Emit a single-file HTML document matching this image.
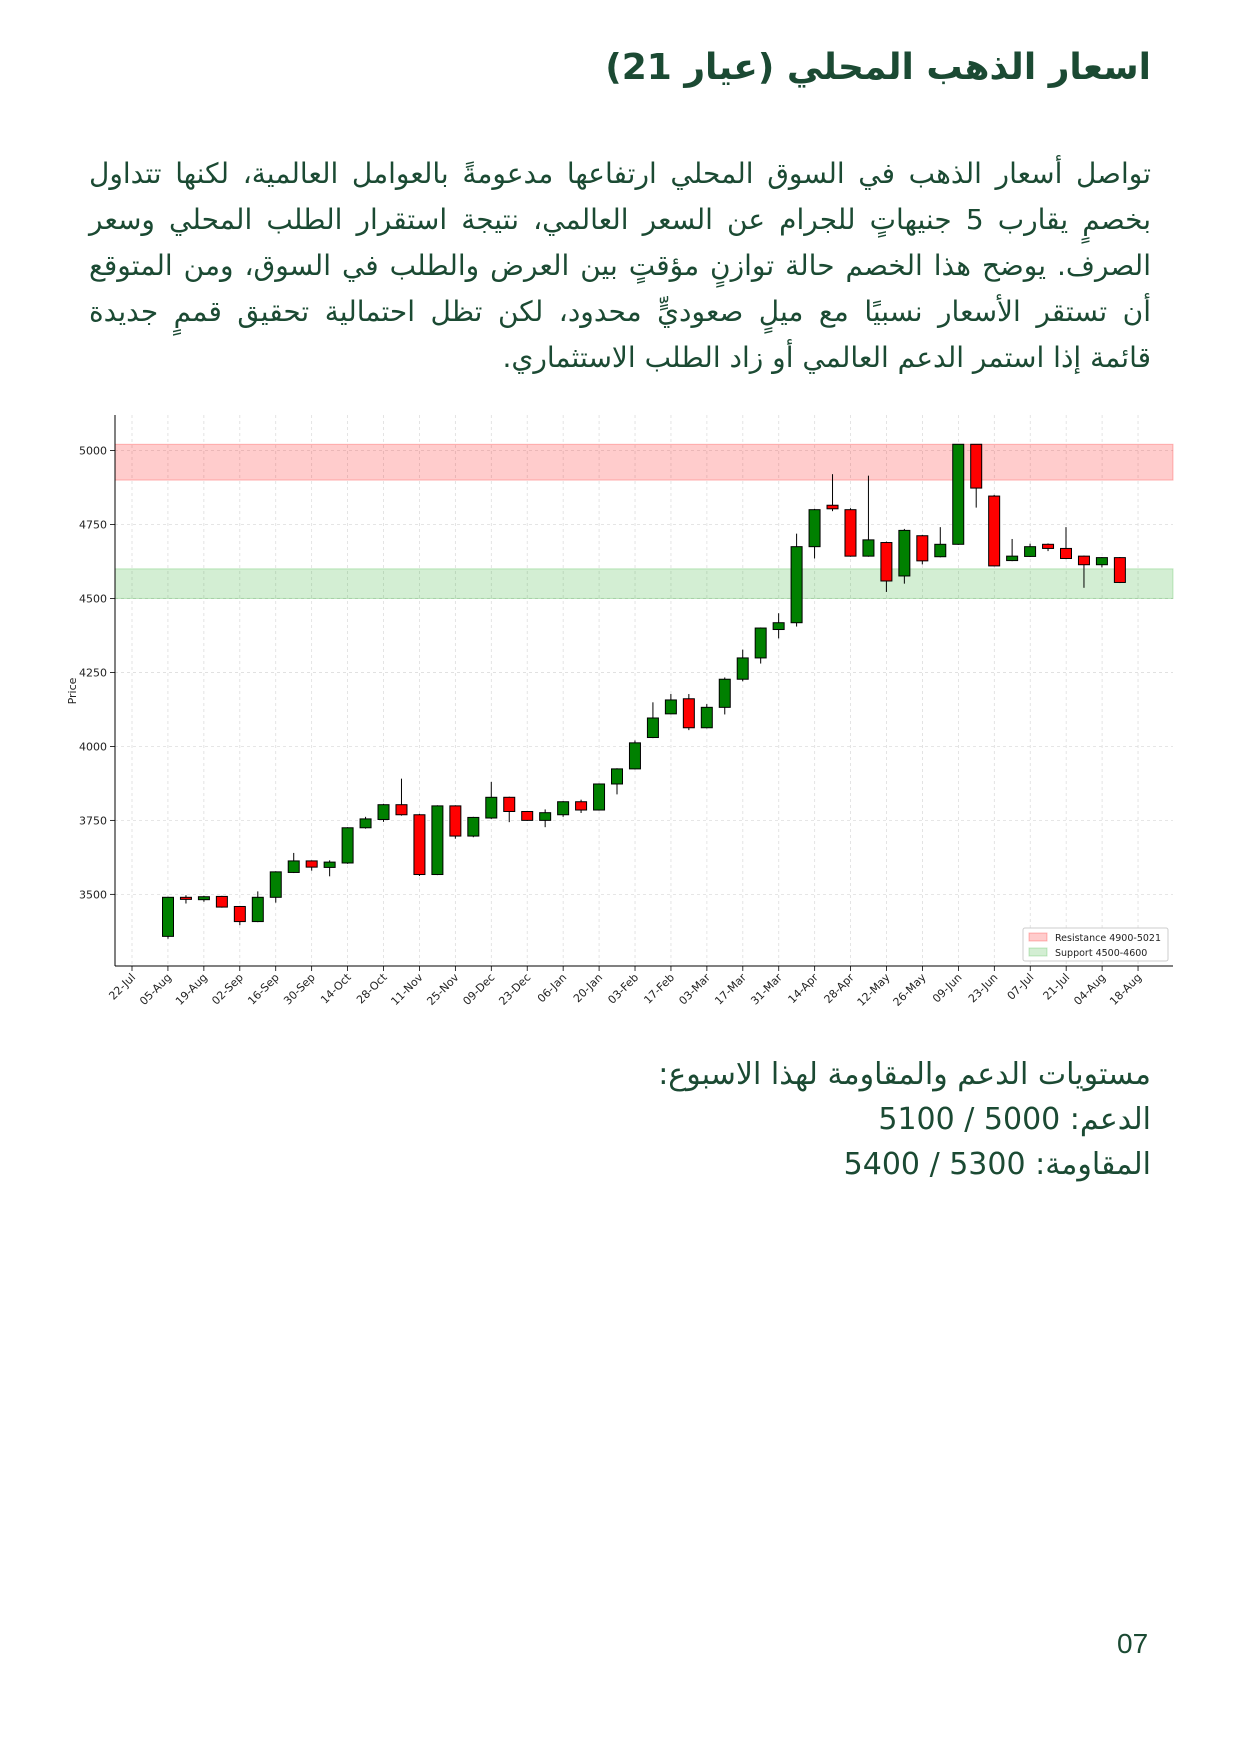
<!DOCTYPE html>
<html lang="ar"><head><meta charset="utf-8">
<style>
html,body{margin:0;padding:0;background:#fff;}
body{width:1241px;height:1755px;position:relative;overflow:hidden;font-family:"DejaVu Sans","Liberation Sans",sans-serif;color:#1b4a33;}
.title{position:absolute;right:90px;top:47px;font-size:36px;font-weight:bold;direction:rtl;white-space:nowrap;}
.para{position:absolute;left:89px;width:1062px;top:151px;font-size:28px;line-height:46px;direction:rtl;}
.para div{white-space:nowrap;text-align:justify;text-align-last:justify;height:46px;}
.para div.last{text-align:right;text-align-last:right;}
.lv{position:absolute;right:90px;direction:rtl;font-size:30px;white-space:nowrap;}
.pg{position:absolute;left:1117px;top:1628px;font-size:28px;font-family:"Liberation Sans",sans-serif;}
svg{position:absolute;left:0;top:0;}
</style></head><body>
<div class="title">اسعار الذهب المحلي (عيار 21)</div>
<div class="para">
<div>تواصل أسعار الذهب في السوق المحلي ارتفاعها مدعومةً بالعوامل العالمية، لكنها تتداول</div>
<div>بخصمٍ يقارب 5 جنيهاتٍ للجرام عن السعر العالمي، نتيجة استقرار الطلب المحلي وسعر</div>
<div>الصرف. يوضح هذا الخصم حالة توازنٍ مؤقتٍ بين العرض والطلب في السوق، ومن المتوقع</div>
<div>أن تستقر الأسعار نسبيًا مع ميلٍ صعوديٍّ محدود، لكن تظل احتمالية تحقيق قممٍ جديدة</div>
<div class="last">قائمة إذا استمر الدعم العالمي أو زاد الطلب الاستثماري.</div>
</div>
<svg id="ch" width="1241" height="1040" xmlns="http://www.w3.org/2000/svg" font-family="DejaVu Sans, sans-serif"></svg>
<div class="lv" style="top:1057px">مستويات الدعم والمقاومة لهذا الاسبوع:</div>
<div class="lv" style="top:1102px">الدعم: 5000 / 5100</div>
<div class="lv" style="top:1147px">المقاومة: 5300 / 5400</div>
<div class="pg">07</div>
<script>
var L=115,R=1173,T=415,B=966;
function Y(p){return 450.5+(5000-p)*0.2959;}
function X(i){return 168+i*17.96;}
var s='';
var labels=["22-Jul","05-Aug","19-Aug","02-Sep","16-Sep","30-Sep","14-Oct","28-Oct","11-Nov","25-Nov","09-Dec","23-Dec","06-Jan","20-Jan","03-Feb","17-Feb","03-Mar","17-Mar","31-Mar","14-Apr","28-Apr","12-May","26-May","09-Jun","23-Jun","07-Jul","21-Jul","04-Aug","18-Aug"];
for(var k=0;k<labels.length;k++){var x=132+k*35.93;
s+='<line x1="'+x+'" y1="'+T+'" x2="'+x+'" y2="'+B+'" stroke="#ddd" stroke-width="0.8" stroke-dasharray="3,3"/>';
s+='<line x1="'+x+'" y1="'+B+'" x2="'+x+'" y2="'+(B+5)+'" stroke="#000" stroke-width="0.8"/>';
s+='<text transform="translate('+(x+4)+','+(B+12)+') rotate(-45)" text-anchor="end" font-size="11" fill="#222">'+labels[k]+'</text>';}
for(var p=3500;p<=5000;p+=250){var y=Y(p);
s+='<line x1="'+L+'" y1="'+y+'" x2="'+R+'" y2="'+y+'" stroke="#ddd" stroke-width="0.8" stroke-dasharray="3,3"/>';
s+='<line x1="'+(L-5)+'" y1="'+y+'" x2="'+L+'" y2="'+y+'" stroke="#000" stroke-width="0.8"/>';
s+='<text x="'+(L-8)+'" y="'+(y+4)+'" text-anchor="end" font-size="11" fill="#222">'+p+'</text>';}
s+='<rect x="'+L+'" y="'+Y(5021)+'" width="'+(R-L)+'" height="'+(Y(4900)-Y(5021))+'" fill="#ff0000" fill-opacity="0.2" stroke="#ff0000" stroke-opacity="0.25"/>';
s+='<rect x="'+L+'" y="'+Y(4600)+'" width="'+(R-L)+'" height="'+(Y(4500)-Y(4600))+'" fill="#22aa22" fill-opacity="0.2" stroke="#22aa22" stroke-opacity="0.25"/>';
var c=[[3358,3490,3350,3492],[3490,3483,3469,3497],[3482,3492,3475,3495],[3493,3457,3455,3495],[3459,3408,3396,3461],[3408,3490,3406,3510],[3490,3576,3472,3578],[3574,3613,3572,3640],[3613,3592,3580,3615],[3591,3609,3561,3615],[3606,3725,3603,3727],[3725,3755,3722,3762],[3753,3803,3745,3806],[3803,3769,3766,3891],[3769,3567,3562,3772],[3567,3799,3565,3801],[3799,3697,3688,3801],[3697,3760,3693,3762],[3758,3828,3755,3880],[3828,3780,3744,3830],[3780,3750,3748,3782],[3750,3776,3727,3787],[3769,3813,3762,3815],[3813,3785,3775,3820],[3785,3873,3783,3875],[3873,3924,3838,3926],[3924,4012,3922,4020],[4030,4096,4028,4149],[4110,4157,4108,4177],[4161,4063,4055,4177],[4063,4132,4061,4143],[4132,4227,4108,4233],[4227,4299,4220,4327],[4299,4400,4280,4402],[4395,4418,4365,4450],[4418,4675,4405,4719],[4675,4800,4635,4803],[4815,4803,4795,4920],[4800,4643,4641,4805],[4643,4698,4641,4915],[4689,4559,4522,4692],[4576,4730,4550,4735],[4712,4627,4615,4715],[4641,4683,4639,4741],[4683,5021,4681,5021],[5021,4873,4807,5021],[4846,4610,4608,4850],[4628,4643,4626,4701],[4642,4675,4640,4685],[4683,4669,4660,4686],[4669,4635,4633,4741],[4643,4614,4536,4645],[4614,4638,4605,4640],[4638,4554,4552,4640]];
for(var i=0;i<c.length;i++){var o=c[i][0],cl=c[i][1],lo=c[i][2],hi=c[i][3],x=X(i);
var col=cl>=o?'#008000':'#ff0000';
s+='<line x1="'+x+'" y1="'+Y(hi)+'" x2="'+x+'" y2="'+Y(lo)+'" stroke="#000" stroke-width="1"/>';
var t=Y(Math.max(o,cl)),b=Y(Math.min(o,cl));
s+='<rect x="'+(x-5.5)+'" y="'+t+'" width="11" height="'+Math.max(b-t,1.5)+'" fill="'+col+'" stroke="#000" stroke-width="1"/>';}
s+='<line x1="'+L+'" y1="'+T+'" x2="'+L+'" y2="'+B+'" stroke="#000" stroke-width="1"/>';
s+='<line x1="'+L+'" y1="'+B+'" x2="'+R+'" y2="'+B+'" stroke="#000" stroke-width="1"/>';
s+='<text transform="translate(76,691) rotate(-90)" text-anchor="middle" font-size="11" fill="#222">Price</text>';
s+='<rect x="1023" y="928" width="145" height="33" fill="#fff" stroke="#ccc" rx="2"/>';
s+='<rect x="1029" y="933" width="18" height="8" fill="#ff0000" fill-opacity="0.2" stroke="#ff0000" stroke-opacity="0.25"/>';
s+='<text x="1055" y="941" font-size="9.5" fill="#222">Resistance 4900-5021</text>';
s+='<rect x="1029" y="948" width="18" height="8" fill="#22aa22" fill-opacity="0.2" stroke="#22aa22" stroke-opacity="0.25"/>';
s+='<text x="1055" y="956" font-size="9.5" fill="#222">Support 4500-4600</text>';
document.getElementById('ch').innerHTML=s;
</script>
</body></html>
